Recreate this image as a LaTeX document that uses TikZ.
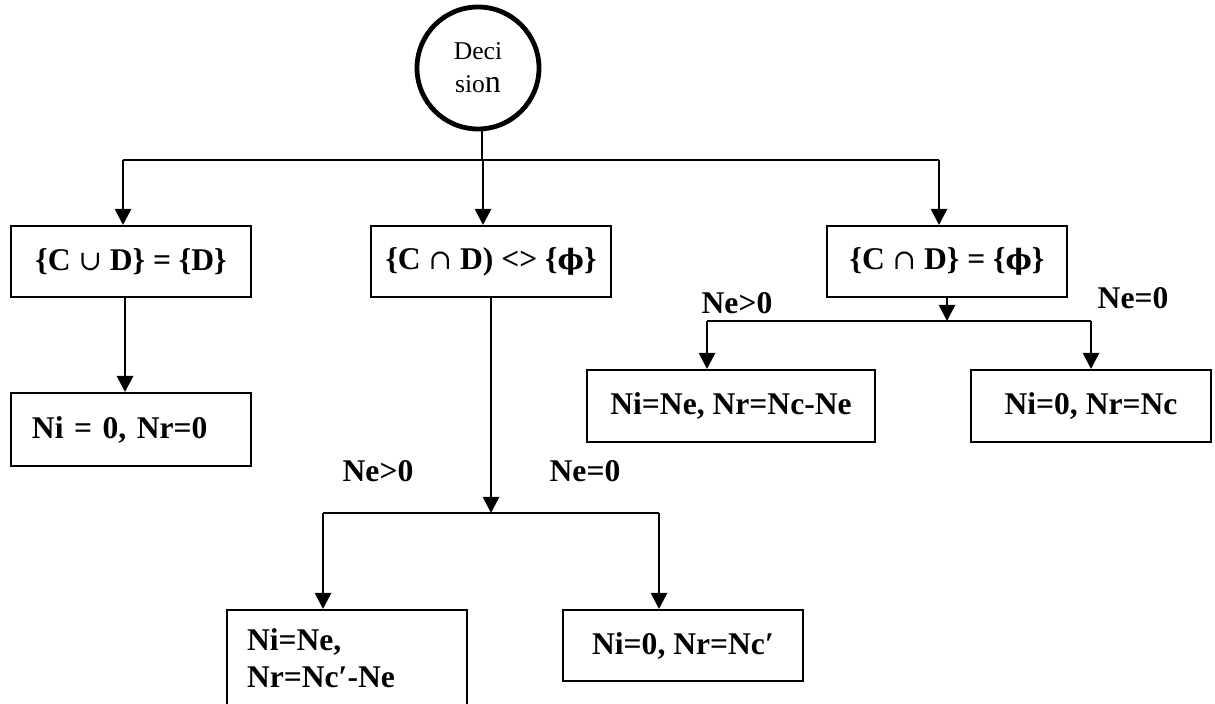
\documentclass[tikz,border=0pt]{standalone}
\usepackage{fontspec}
\setmainfont{Liberation Serif}
\newfontfamily\symfont{DejaVu Serif}
\usetikzlibrary{arrows.meta}
\newcommand{\myunion}{{\symfont\mdseries\fontsize{14}{16}\selectfont ∪}}
\newcommand{\myinter}{{\symfont\mdseries\fontsize{14}{16}\selectfont ∩}}
\newcommand{\myphi}{{\symfont\bfseries\fontsize{14}{16}\selectfont ϕ}}
\begin{document}
\begin{tikzpicture}[x=0.5pt,y=-0.5pt,
  bf/.style={font=\fontsize{15.8}{18.5}\selectfont\bfseries},
  box/.style={bf, draw, line width=1pt, inner sep=0pt, minimum width=120pt, minimum height=35.5pt},
  arr/.style={line width=1.4pt, -{Triangle[length=8pt,width=8pt]}},
  ln/.style={line width=1.3pt},
  lbl/.style={bf, inner sep=0pt}]
\clip (0,0) rectangle (1215,704);
\useasboundingbox (0,0) rectangle (1215,704);
% decision circle
\node[circle, draw, line width=2.4pt, minimum size=61pt, inner sep=0pt, align=center,
      font=\fontsize{12.8}{16.5}\selectfont] (dec) at (478,68)
      {Deci\\sio{\fontsize{16}{16}\selectfont n}};
% boxes
\node[box] (b1) at (131,261.5) {\{C \myunion\ D\} = \{D\}};
\node[box, align=left, text width=99pt, minimum height=36.5pt] (b2) at (131,429.5) {Ni = 0, Nr=0};
\node[box] (bm) at (491,261.5) {\{C \myinter\ D) <> \{\myphi\}};
\node[box] (br) at (947,261.5) {\{C \myinter\ D\} = \{\myphi\}};
\node[box, minimum width=144pt, minimum height=36pt] (brl) at (731,406) {Ni=Ne, Nr=Nc-Ne};
\node[box, minimum height=36pt] (brr) at (1091,406) {Ni=0, Nr=Nc};
\node[box, align=left, text width=100pt, minimum height=48pt] (bbl) at (347,658) {Ni=Ne,\\Nr=Nc′-Ne};
\node[box] (bbr) at (683,645.5) {Ni=0, Nr=Nc′};
% labels
\node[lbl] (l1) at (378,471) {Ne>0};
\node[lbl] (l2) at (585,471) {Ne=0};
\node[lbl] (l3) at (737,303) {Ne>0};
\node[lbl] (l4) at (1133,298) {Ne=0};
% bus coordinates
\coordinate (t0) at (482,160);
\coordinate (tL) at (123,160);
\coordinate (tM) at (483,160);
\coordinate (tR) at (939,160);
\coordinate (lx) at (125,0);
\coordinate (m0) at (491,513);
\coordinate (mL) at (323,513);
\coordinate (mR) at (659,513);
\coordinate (r0) at (947,321);
\coordinate (rL) at (707,321);
\coordinate (rR) at (1091,321);
% top bus
\draw[ln] (dec.south -| t0) -- (t0);
\draw[ln] (tL) -- (tR);
\draw[arr] (tL) -- (tL |- b1.north);
\draw[arr] (tM) -- (tM |- bm.north);
\draw[arr] (tR) -- (tR |- br.north);
% left branch
\draw[arr] (lx |- b1.south) -- (lx |- b2.north);
% middle branch
\draw[arr] (bm.south -| m0) -- (m0);
\draw[ln] (mL) -- (mR);
\draw[arr] (mL) -- (mL |- bbl.north);
\draw[arr] (mR) -- (mR |- bbr.north);
% right branch
\draw[arr] (br.south -| r0) -- (r0);
\draw[ln] (rL) -- (rR);
\draw[arr] (rL) -- (rL |- brl.north);
\draw[arr] (rR) -- (rR |- brr.north);
\end{tikzpicture}
\end{document}
